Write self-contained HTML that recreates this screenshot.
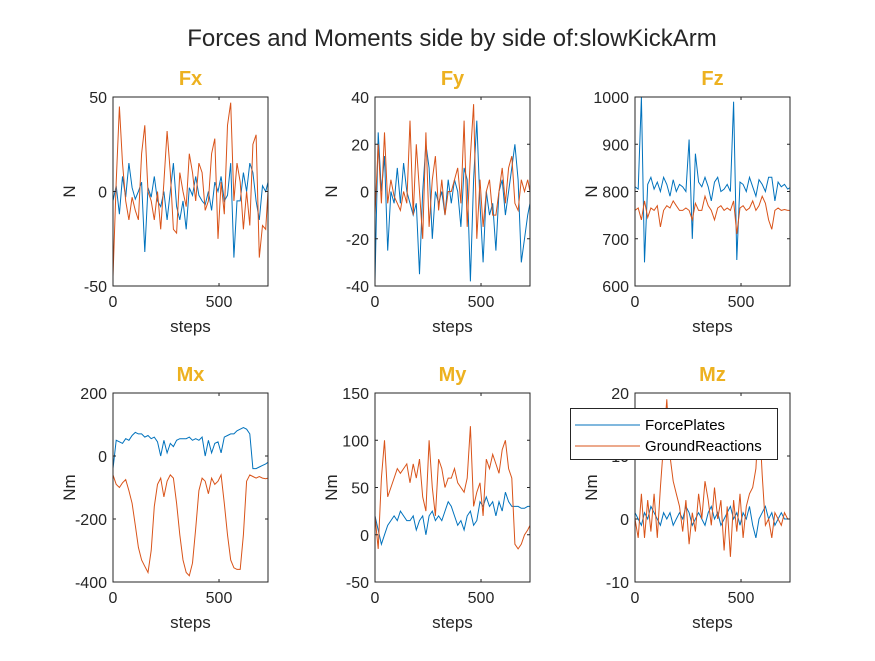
<!DOCTYPE html>
<html><head><meta charset="utf-8">
<style>
html,body{margin:0;padding:0;background:#fff;}
svg text{font-family:"Liberation Sans",Arial,sans-serif;}
</style></head>
<body>
<svg id="fig" width="875" height="656" viewBox="0 0 875 656" xmlns="http://www.w3.org/2000/svg">
<rect width="875" height="656" fill="#fff"/>
<text x="452" y="46" text-anchor="middle" font-size="24" fill="#262626">Forces and Moments side by side of:slowKickArm</text>
</svg>
<script>
const titles=["Fx","Fy","Fz","Mx","My","Mz"];
const yLabels=["N","N","N","Nm","Nm","Nm"];
const yTicks=[[-50,0,50],[-40,-20,0,20,40],[600,700,800,900,1000],[-400,-200,0,200],[-50,0,50,100,150],[-10,0,10,20]];
const xTicks=[0,500];
const xMax=731;
const stepSize=15;
const fxPlates=[-5,3,-12,8,-3,15,2,-4,0,5,-32,2,-3,8,-5,-8,0,-15,0,15,-8,-15,-5,-20,2,-2,8,-2,-5,-7,0,-10,5,0,8,-5,-2,15,-35,-5,-5,10,0,15,10,-5,-15,3,0,5];
const fxGround=[-45,5,45,15,-5,-15,-3,-10,-15,20,35,0,-5,-15,0,-20,5,32,10,-20,-22,10,0,-8,20,10,-5,15,10,-10,-5,20,28,-25,5,-12,35,47,-5,15,5,-20,0,-18,25,30,-35,-18,-20,0];
const fyPlates=[-38,25,0,15,-25,0,-5,10,-5,12,0,-5,-10,-5,-35,0,20,10,-20,0,-5,0,-10,5,-5,5,0,-15,10,5,-38,5,30,-5,-30,0,-10,-5,-25,0,5,-10,0,10,20,5,-30,-20,-10,-5];
const fyGround=[-10,20,-5,25,-5,5,-2,-5,-8,0,-5,30,-10,20,0,-20,25,-15,5,15,-8,5,-10,0,0,5,10,-5,30,-15,15,37,-20,5,-15,0,5,-10,-10,0,10,-5,10,15,-5,-8,5,0,5,0];
const fzPlates=[810,805,1000,650,815,830,805,820,800,830,815,790,825,800,815,810,800,910,700,880,820,810,830,810,780,820,830,800,805,815,800,990,655,820,815,800,830,810,790,825,815,800,830,830,780,820,810,815,805,808];
const fzGround=[760,765,740,780,745,765,760,770,725,760,770,765,780,770,760,760,765,760,740,775,760,760,790,770,760,740,765,770,760,765,760,780,710,765,770,760,765,780,760,770,790,775,740,720,760,765,760,762,760,760];
const mxPlates=[-40,50,45,40,55,50,65,75,70,70,60,65,55,60,45,0,50,10,40,30,50,55,55,55,60,50,55,50,60,0,50,10,40,45,10,60,65,70,70,80,85,90,85,70,-40,-40,-35,-30,-25,-20];
const mxGround=[-60,-90,-100,-85,-75,-110,-150,-220,-290,-330,-350,-370,-300,-160,-90,-70,-130,-80,-60,-70,-150,-250,-330,-370,-380,-340,-230,-110,-70,-80,-120,-70,-90,-80,-60,-150,-250,-330,-355,-360,-360,-250,-80,-60,-65,-70,-65,-70,-72,-70];
const myPlates=[20,5,-10,0,10,15,20,15,25,20,15,15,20,5,15,20,0,20,25,15,20,15,25,35,30,20,10,15,5,20,25,10,15,35,30,40,30,35,20,35,25,45,35,30,30,30,28,28,30,30];
const myGround=[20,-15,60,100,40,50,60,70,65,70,75,55,75,60,80,40,25,100,50,20,80,70,50,60,60,70,55,50,45,60,115,30,45,55,20,80,70,85,75,65,90,100,70,60,-10,-15,-10,0,5,10];
const mzPlates=[1,0,-1,1,0,2,1,0,-1,1,0,1,-1,0,1,0,2,1,-1,0,1,0,-1,1,2,0,1,-1,0,1,2,0,1,-1,1,0,2,-1,-3,0,1,2,0,1,-1,0,1,0,0,0];
const mzGround=[0,-3,4,-3,3,-2,4,-3,5,12,19,10,6,4,2,-2,3,-4,1,-2,4,0,6,3,-1,5,0,3,-5,2,-6,3,-2,4,-3,2,4,5,8,17,7,-1,0,-3,1,0,-1,1,0,0];
const platesSeries=[fxPlates,fyPlates,fzPlates,mxPlates,myPlates,mzPlates];
const groundSeries=[fxGround,fyGround,fzGround,mxGround,myGround,mzGround];

const NS="http://www.w3.org/2000/svg";
const svg=document.getElementById('fig');
const colX=[113,375,635], rowY=[97,393], W=155, H=189;
function mk(tag,attrs,parent){const e=document.createElementNS(NS,tag);for(const k in attrs)e.setAttribute(k,attrs[k]);(parent||svg).appendChild(e);return e;}

for(let p=0;p<6;p++){
  const x0=colX[p%3], y0=rowY[Math.floor(p/3)];
  const yt=yTicks[p], yMin=yt[0], yMx=yt[yt.length-1];
  const sx=v=>x0+v/xMax*W;
  const sy=v=>y0+H-(v-yMin)/(yMx-yMin)*H;
  const g=mk('g',{});
  
  
  mk('rect',{x:x0,y:y0,width:W,height:H,fill:'#fff'},g);
  const clipId='c'+p;
  const cp=mk('clipPath',{id:clipId},g);
  mk('rect',{x:x0,y:y0,width:W,height:H},cp);
  [[platesSeries[p],'#0072BD','force-plates'],[groundSeries[p],'#D95319','ground-reactions']].forEach(([arr,col,nm])=>{
    const d=arr.map((v,i)=>(i?'L':'M')+sx(Math.min(i*stepSize,xMax)).toFixed(1)+','+sy(v).toFixed(1)).join(' ');
    const l=mk('path',{d:d,fill:'none',stroke:col,'stroke-width':1,'clip-path':'url(#'+clipId+')'},g);
    
    
  });
  mk('rect',{x:x0,y:y0,width:W,height:H,fill:'none',stroke:'#262626','stroke-width':1},g);
  yt.forEach(v=>{
    const y=sy(v);
    mk('line',{x1:x0,x2:x0+3,y1:y,y2:y,stroke:'#262626'},g);
    mk('line',{x1:x0+W,x2:x0+W-3,y1:y,y2:y,stroke:'#262626'},g);
    const t=mk('text',{x:x0-6,y:y+6,'text-anchor':'end','font-size':16,fill:'#262626'},g);
    t.textContent=v;
    
    
  });
  xTicks.forEach(v=>{
    const x=sx(v);
    mk('line',{x1:x,x2:x,y1:y0+H,y2:y0+H-3,stroke:'#262626'},g);
    mk('line',{x1:x,x2:x,y1:y0,y2:y0+3,stroke:'#262626'},g);
    const t=mk('text',{x:x,y:y0+H+21,'text-anchor':'middle','font-size':16,fill:'#262626'},g);
    t.textContent=v;
    
    
  });
  const tt=mk('text',{x:x0+W/2,y:y0-12,'text-anchor':'middle','font-size':20,'font-weight':'bold',fill:'#EDB120'},g);
  tt.textContent=titles[p];
  
  
  const xl=mk('text',{x:x0+W/2,y:y0+H+46,'text-anchor':'middle','font-size':17,fill:'#262626'},g);
  xl.textContent='steps';
  
  
  const yx=x0-38, yy=y0+H/2;
  const yl=mk('text',{x:yx,y:yy,'text-anchor':'middle','font-size':17,fill:'#262626',transform:'rotate(-90 '+yx+' '+yy+')'},g);
  yl.textContent=yLabels[p];
  
  
}
// legend
const lg=mk('g',{});


mk('rect',{x:570.5,y:408.5,width:207,height:51,fill:'#fff',stroke:'#262626','stroke-width':1},lg);
[['ForcePlates','#0072BD',425],['GroundReactions','#D95319',446]].forEach(([n,c,y])=>{
  const e=mk('g',{},lg);
  
  
  mk('line',{x1:575,x2:640,y1:y,y2:y,stroke:c,'stroke-width':1},e);
  const t=mk('text',{x:645,y:y+5,'font-size':15,fill:'#000'},e);
  t.textContent=n;
});
</script>
</body></html>
